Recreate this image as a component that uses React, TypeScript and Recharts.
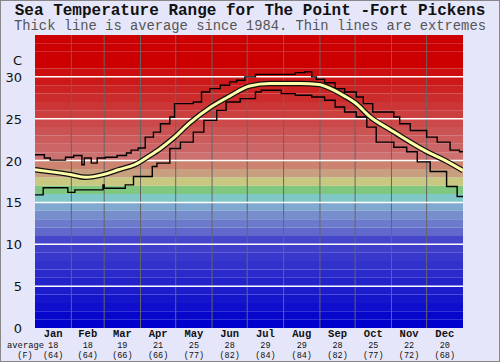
import { LineChart, Line, XAxis, YAxis, ReferenceArea, ReferenceLine } from 'recharts';

const monthNames = ['Jan', 'Feb', 'Mar', 'Apr', 'May', 'Jun', 'Jul', 'Aug', 'Sep', 'Oct', 'Nov', 'Dec'];
const monthAvgC = [18, 18, 19, 21, 25, 28, 29, 29, 28, 25, 22, 20];
const monthAvgF = [64, 64, 66, 66, 77, 82, 84, 84, 82, 77, 72, 68];
const monthStartDays = [0, 31, 59, 90, 120, 151, 181, 212, 243, 273, 304, 334, 365];

const tempTicks = [0, 5, 10, 15, 20, 25, 30];

// average line (day of year, deg C)
const avgDays = [0, 14, 31, 43, 59, 71, 85, 98, 107, 119, 132, 150, 166, 183, 200, 212, 226, 242, 252, 264, 273, 286, 304, 320, 335, 350, 365];
const avgTemps = [18.9, 18.65, 18.3, 18.0, 18.35, 18.9, 19.5, 20.6, 21.45, 22.8, 24.5, 26.4, 27.7, 28.9, 29.2, 29.2, 29.2, 29.1, 28.6, 27.7, 26.9, 25.2, 23.6, 22.2, 21.0, 20.0, 18.8];

// highest recorded
const maxDays = [0, 8, 13, 26, 33, 40, 42, 48, 53, 60, 70, 78, 82, 88, 94, 101, 107, 115, 119, 135, 142, 149, 158, 166, 172, 179, 188, 222, 230, 236, 240, 247, 256, 264, 274, 280, 288, 306, 311, 320, 334, 343, 354, 362, 365];
const maxTemps = [20.7, 20.3, 20.05, 20.4, 20.6, 19.5, 20.3, 19.7, 20.3, 20.4, 20.6, 20.9, 21.25, 21.5, 22.8, 23.4, 24.4, 25.2, 26.8, 27.0, 28.2, 28.6, 29.0, 29.4, 29.6, 30.0, 30.3, 30.5, 30.6, 30.0, 29.7, 29.3, 28.6, 28.2, 27.6, 26.8, 25.8, 25.2, 24.4, 23.6, 22.8, 22.2, 21.25, 21.05, 21.05];

// lowest recorded
const minDays = [0, 7, 28, 34, 58, 59, 77, 84, 100, 104, 115, 124, 135, 144, 155, 163, 175, 188, 193, 210, 222, 236, 247, 256, 264, 274, 283, 291, 306, 317, 326, 337, 351, 360, 365];
const minTemps = [15.9, 16.75, 16.2, 16.5, 17.1, 16.7, 17.1, 18.1, 19.3, 19.7, 21.45, 22.2, 23.4, 24.8, 26.0, 27.0, 27.4, 28.2, 28.4, 28.0, 27.8, 27.6, 27.2, 26.4, 25.8, 25.2, 24.0, 22.2, 21.6, 21.05, 19.85, 18.7, 16.9, 15.7, 15.7];

const toSeries = (days: number[], temps: number[]) => days.map((d, i) => ({ d, t: temps[i] }));
const avgData = toSeries(avgDays, avgTemps);
const maxData = toSeries(maxDays, maxTemps);
const minData = toSeries(minDays, minTemps);

const monthCenters = monthNames.map((_, i) => (monthStartDays[i] + monthStartDays[i + 1]) / 2);

const mono = '"Liberation Mono", "DejaVu Sans Mono", monospace';

// colour of the 1-degree band starting at t
function bandColor(t: number) {
  if (t >= 31) return 'rgb(204,0,0)';
  if (t >= 20) {
    const g = Math.round(14 + (30 - t) * 9.8);
    return `rgb(204,${g},${g})`;
  }
  const mid: Record<number, string> = {
    19: 'rgb(204,132,112)',
    18: 'rgb(200,160,128)',
    17: 'rgb(200,200,128)',
    16: 'rgb(128,200,128)',
    15: 'rgb(128,200,200)',
    14: 'rgb(128,168,208)',
    13: 'rgb(118,142,204)',
    12: 'rgb(108,122,204)',
    11: 'rgb(96,104,204)',
  };
  if (mid[t]) return mid[t];
  const r = Math.round(t * 7);
  return `rgb(${r},${r},204)`;
}

const bands = Array.from({ length: 35 }, (_, i) => i);

function MonthTick(props: any) {
  const { x, y, index } = props;
  return (
    <g fontFamily={mono} fill="#111" textAnchor="middle">
      <text x={x} y={y + 9} fontSize={10.5} fontWeight="bold">{monthNames[index]}</text>
      <text x={x} y={y + 19.5} fontSize={8.5}>{monthAvgC[index]}</text>
      <text x={x} y={y + 29.5} fontSize={8.5}>({monthAvgF[index]})</text>
      {index === 0 && (
        <>
          <text x={44} y={y + 19.5} fontSize={8.8} textAnchor="end">average</text>
          <text x={25} y={y + 29.5} fontSize={8.5}>(F)</text>
        </>
      )}
    </g>
  );
}

function LeftTick(props: any) {
  const { x, y, payload } = props;
  const v = payload.value;
  return (
    <text x={x - 13} y={y + 5} textAnchor="end" fontSize={13} fontFamily='"DejaVu Sans", sans-serif' fill="#111">
      {v === 32 ? 'C' : v}
    </text>
  );
}

function RightTick(props: any) {
  const { x, y, payload } = props;
  const v = payload.value;
  const label = v === 32 ? '(F)' : `(${Math.round(v * 1.8 + 32)})`;
  return (
    <text x={x + 2} y={y + 5} textAnchor="start" fontSize={12} fontWeight="bold" fontFamily={mono} fill="#111">
      {label}
    </text>
  );
}

export default function App() {
  return (
    <div style={{ position: 'relative', width: 500, height: 362, background: '#e6e6fa' }}>
      <style>{'body{margin:0}'}</style>
      <div style={{ position: 'absolute', top: 2, left: 0, width: 500, textAlign: 'center', fontFamily: mono, fontWeight: 'bold', fontSize: 16, color: '#111' }}>
        Sea Temperature Range for The Point -Fort Pickens
      </div>
      <div style={{ position: 'absolute', top: 19, left: 0, width: 500, textAlign: 'center', fontFamily: mono, fontSize: 13.8, color: '#555' }}>
        Thick line is average since 1984. Thin lines are extremes
      </div>
      <LineChart width={500} height={362} margin={{ top: 35, right: 0, bottom: 0, left: 0 }}>
        <XAxis
          dataKey="d"
          type="number"
          domain={[0, 365]}
          ticks={monthCenters}
          interval={0}
          height={34}
          axisLine={false}
          tickLine={false}
          tickSize={0}
          tickMargin={0}
          tick={(p: any) => <MonthTick {...p} />}
          allowDataOverflow
        />
        <YAxis
          yAxisId="c"
          orientation="left"
          type="number"
          domain={[0, 35]}
          ticks={[...tempTicks, 32]}
          interval={0}
          width={35}
          axisLine={false}
          tickLine={false}
          tickSize={0}
          tickMargin={0}
          tick={(p: any) => <LeftTick {...p} />}
          allowDataOverflow
        />
        <YAxis
          yAxisId="f"
          orientation="right"
          type="number"
          domain={[0, 35]}
          ticks={[...tempTicks, 32]}
          interval={0}
          width={37}
          axisLine={false}
          tickLine={false}
          tickSize={0}
          tickMargin={0}
          tick={(p: any) => <RightTick {...p} />}
        />
        {bands.map((t) => (
          <ReferenceArea key={t} yAxisId="c" x1={0} x2={365} y1={t} y2={t + 1} fill={bandColor(t)} fillOpacity={1} stroke="none" />
        ))}
        {monthStartDays.slice(1, 12).map((d) => (
          <ReferenceLine key={d} yAxisId="c" x={d} stroke="#666" strokeWidth={1} />
        ))}
        {tempTicks.slice(1).map((t) => (
          <ReferenceLine key={t} yAxisId="c" y={t} stroke="#fff" strokeWidth={1.5} />
        ))}
        <Line yAxisId="c" data={maxData} dataKey="t" type="stepAfter" stroke="#000" strokeWidth={1.4} dot={false} isAnimationActive={false} />
        <Line yAxisId="c" data={minData} dataKey="t" type="stepAfter" stroke="#000" strokeWidth={1.4} dot={false} isAnimationActive={false} />
        <Line yAxisId="c" data={avgData} dataKey="t" type="monotone" stroke="#111" strokeWidth={5.5} dot={false} isAnimationActive={false} />
        <Line yAxisId="c" data={avgData} dataKey="t" type="monotone" stroke="#ffffa8" strokeWidth={3} dot={false} isAnimationActive={false} />
      </LineChart>
      <div style={{ position: 'absolute', inset: 0, border: '1px solid #888', pointerEvents: 'none' }} />
    </div>
  );
}
